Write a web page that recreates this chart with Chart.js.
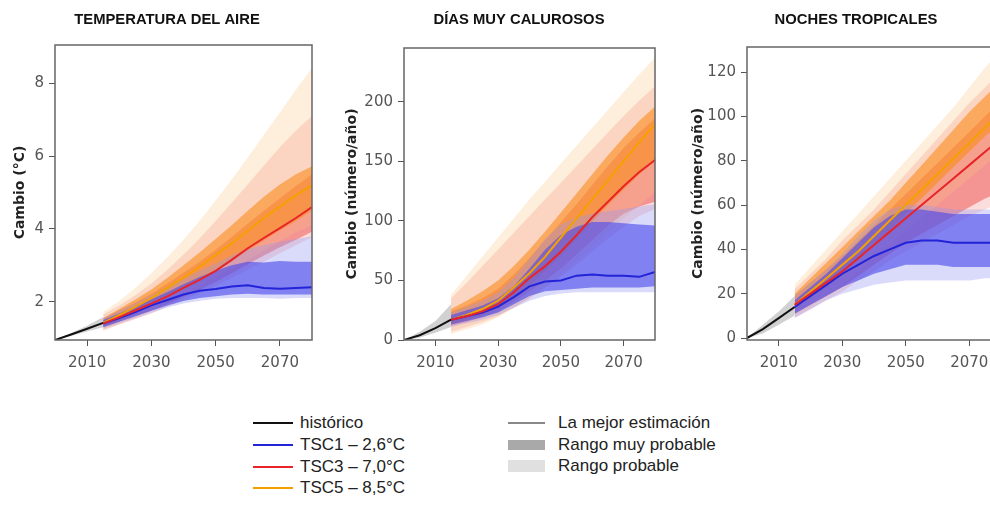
<!DOCTYPE html>
<html lang="es">
<head>
<meta charset="UTF-8">
<title>Cambios proyectados</title>
<script src="https://cdn.jsdelivr.net/npm/chart.js"></script>
<style>
  html, body { margin: 0; padding: 0; overflow: hidden; background: #fff; }
  body { width: 990px; height: 508px; position: relative; font-family: 'Liberation Sans', Arial, sans-serif; }
  canvas { position: absolute; top: 0; }
  .lg { position: absolute; display: flex; align-items: center; height: 22px; font-size: 17px; color: #222; white-space: nowrap; }
  .ln { display: inline-block; width: 40px; height: 2px; margin-right: 7px; }
  .sw { display: inline-block; width: 37px; margin-right: 13px; }
</style>
</head>
<body>
<canvas id="c1" width="335" height="380" style="left:0px"></canvas>
<canvas id="c2" width="378" height="380" style="left:330px"></canvas>
<canvas id="c3" width="392" height="380" style="left:660px"></canvas>

<!-- leyenda -->
<div class="lg" style="left:253px;top:412px"><span class="ln" style="background:#111"></span>histórico</div>
<div class="lg" style="left:253px;top:434px"><span class="ln" style="background:#2323d8"></span>TSC1 – 2,6°C</div>
<div class="lg" style="left:253px;top:456px"><span class="ln" style="background:#e8242a"></span>TSC3 – 7,0°C</div>
<div class="lg" style="left:253px;top:477px"><span class="ln" style="background:#f5a000"></span>TSC5 – 8,5°C</div>
<div class="lg" style="left:508px;top:412px"><span class="sw" style="height:2px;background:#888"></span>La mejor estimación</div>
<div class="lg" style="left:508px;top:434px"><span class="sw" style="height:10px;background:#a9a9a9"></span>Rango muy probable</div>
<div class="lg" style="left:508px;top:455px"><span class="sw" style="height:12px;background:#e0e0e0"></span>Rango probable</div>

<script>
// años
const histYears = [2000, 2005, 2010, 2015];
const years = [2015, 2020, 2025, 2030, 2035, 2040, 2045, 2050, 2055, 2060, 2065, 2070, 2075, 2080];
const xTicks = [2010, 2030, 2050, 2070];

// TEMPERATURA DEL AIRE (°C)
const tempTicks = [2, 4, 6, 8];
const tempHist = [0.95, 1.1, 1.26, 1.42];
const tempHistLo = [0.95, 1.06, 1.18, 1.3];
const tempHistHi = [0.95, 1.14, 1.34, 1.58];
const tempTsc1 = [1.4, 1.55, 1.72, 1.9, 2.05, 2.2, 2.3, 2.35, 2.42, 2.45, 2.38, 2.36, 2.38, 2.4];
const tempTsc1InnerLo = [1.3, 1.45, 1.6, 1.75, 1.9, 2.02, 2.1, 2.15, 2.2, 2.22, 2.2, 2.2, 2.2, 2.2];
const tempTsc1InnerHi = [1.5, 1.68, 1.87, 2.07, 2.27, 2.48, 2.68, 2.85, 3.0, 3.1, 3.08, 3.12, 3.1, 3.1];
const tempTsc1OuterLo = [1.25, 1.4, 1.55, 1.7, 1.84, 1.95, 2.03, 2.08, 2.1, 2.1, 2.1, 2.08, 2.1, 2.1];
const tempTsc1OuterHi = [1.55, 1.75, 1.96, 2.18, 2.4, 2.62, 2.85, 3.05, 3.28, 3.45, 3.55, 3.65, 3.72, 3.8];
const tempTsc3 = [1.4, 1.58, 1.76, 1.95, 2.15, 2.38, 2.6, 2.85, 3.15, 3.47, 3.75, 4.02, 4.3, 4.6];
const tempTsc3InnerLo = [1.3, 1.45, 1.6, 1.76, 1.94, 2.13, 2.33, 2.54, 2.78, 3.03, 3.27, 3.5, 3.7, 3.92];
const tempTsc3InnerHi = [1.55, 1.76, 1.98, 2.22, 2.5, 2.8, 3.1, 3.43, 3.78, 4.14, 4.5, 4.84, 5.18, 5.5];
const tempTsc3OuterLo = [1.22, 1.37, 1.52, 1.68, 1.86, 2.04, 2.23, 2.43, 2.65, 2.88, 3.1, 3.33, 3.55, 3.78];
const tempTsc3OuterHi = [1.65, 1.9, 2.18, 2.5, 2.88, 3.3, 3.74, 4.22, 4.72, 5.22, 5.74, 6.24, 6.7, 7.1];
const tempTsc5 = [1.42, 1.63, 1.86, 2.1, 2.38, 2.66, 2.96, 3.28, 3.6, 3.95, 4.3, 4.62, 4.92, 5.2];
const tempTsc5InnerLo = [1.32, 1.5, 1.7, 1.9, 2.12, 2.36, 2.6, 2.86, 3.12, 3.4, 3.68, 3.96, 4.22, 4.5];
const tempTsc5InnerHi = [1.55, 1.8, 2.06, 2.34, 2.66, 3.0, 3.35, 3.72, 4.1, 4.5, 4.88, 5.22, 5.5, 5.72];
const tempTsc5OuterLo = [1.2, 1.38, 1.56, 1.76, 1.98, 2.2, 2.42, 2.66, 2.9, 3.15, 3.4, 3.66, 3.9, 4.12];
const tempTsc5OuterHi = [1.72, 2.02, 2.38, 2.78, 3.22, 3.7, 4.22, 4.78, 5.36, 5.96, 6.58, 7.2, 7.82, 8.42];

// DÍAS MUY CALUROSOS (número/año)
const diasTicks = [0, 50, 100, 150, 200];
const diasHist = [0, 4, 10, 17];
const diasHistLo = [0, 2, 6, 11];
const diasHistHi = [0, 7, 16, 30];
const diasTsc1 = [17, 20, 23, 28, 36, 45, 49, 50, 54, 55, 54, 54, 53, 57];
const diasTsc1InnerLo = [13, 16, 19, 23, 30, 37, 41, 42, 43, 44, 44, 44, 44, 45];
const diasTsc1InnerHi = [21, 25, 29, 35, 45, 60, 76, 88, 95, 99, 99, 98, 97, 96];
const diasTsc1OuterLo = [11, 14, 17, 21, 27, 33, 37, 39, 40, 40, 40, 40, 40, 40];
const diasTsc1OuterHi = [23, 28, 33, 40, 52, 68, 85, 97, 103, 106, 108, 110, 112, 114];
const diasTsc3 = [17, 20, 24, 30, 40, 52, 62, 74, 88, 103, 116, 129, 141, 151];
const diasTsc3InnerLo = [12, 15, 19, 24, 32, 41, 50, 60, 72, 84, 96, 106, 112, 116];
const diasTsc3InnerHi = [24, 29, 35, 43, 55, 69, 84, 99, 114, 130, 146, 161, 174, 186];
const diasTsc3OuterLo = [7, 11, 15, 20, 27, 35, 44, 53, 63, 74, 85, 95, 104, 110];
const diasTsc3OuterHi = [35, 48, 62, 76, 90, 104, 118, 132, 146, 160, 174, 188, 201, 213];
const diasTsc5 = [17, 21, 26, 33, 44, 56, 70, 86, 102, 118, 134, 150, 166, 181];
const diasTsc5InnerLo = [13, 17, 21, 27, 36, 46, 58, 71, 85, 99, 113, 126, 139, 150];
const diasTsc5InnerHi = [26, 33, 41, 50, 62, 76, 91, 107, 123, 139, 155, 170, 184, 196];
const diasTsc5OuterLo = [5, 9, 13, 19, 27, 35, 44, 55, 66, 78, 90, 102, 113, 124];
const diasTsc5OuterHi = [38, 54, 70, 86, 102, 118, 133, 148, 163, 178, 193, 208, 223, 237];

// NOCHES TROPICALES (número/año)
const nochesTicks = [0, 20, 40, 60, 80, 100, 120];
const nochesHist = [0, 4, 9, 14];
const nochesHistLo = [0, 2, 6, 10];
const nochesHistHi = [0, 6, 12, 19];
const nochesTsc1 = [14, 19, 24, 29, 33, 37, 40, 43, 44, 44, 43, 43, 43, 43];
const nochesTsc1InnerLo = [11, 15, 19, 23, 26, 29, 31, 33, 33, 33, 32, 32, 32, 32];
const nochesTsc1InnerHi = [17, 23, 29, 36, 43, 50, 55, 58, 58, 57, 56, 56, 56, 56];
const nochesTsc1OuterLo = [9, 13, 17, 20, 22, 24, 25, 26, 26, 26, 26, 26, 27, 27];
const nochesTsc1OuterHi = [19, 25, 31, 38, 46, 53, 58, 60, 60, 59, 58, 58, 58, 58];
const nochesTsc3 = [15, 20, 25, 30, 36, 42, 48, 54, 60, 66, 72, 78, 84, 90];
const nochesTsc3InnerLo = [11, 15, 19, 23, 28, 33, 38, 43, 47, 51, 55, 59, 63, 66];
const nochesTsc3InnerHi = [19, 25, 31, 37, 44, 51, 58, 65, 72, 79, 86, 93, 100, 107];
const nochesTsc3OuterLo = [9, 13, 17, 21, 26, 30, 35, 39, 43, 47, 51, 55, 58, 61];
const nochesTsc3OuterHi = [22, 29, 36, 44, 51, 58, 66, 74, 82, 90, 98, 106, 113, 120];
const nochesTsc5 = [15, 21, 27, 33, 39, 46, 53, 60, 67, 74, 81, 88, 95, 102];
const nochesTsc5InnerLo = [13, 18, 23, 29, 35, 42, 49, 56, 63, 70, 77, 84, 91, 97];
const nochesTsc5InnerHi = [20, 27, 34, 41, 48, 55, 62, 70, 78, 86, 94, 102, 109, 116];
const nochesTsc5OuterLo = [10, 14, 19, 24, 30, 36, 42, 48, 54, 60, 66, 72, 78, 84];
const nochesTsc5OuterHi = [24, 32, 40, 48, 56, 64, 72, 80, 88, 96, 104, 113, 122, 130];

const colors = {
  hist: '#111111', histBand: 'rgba(0,0,0,0.18)',
  tsc1: '#2323d8', tsc1Inner: 'rgba(70,70,235,0.6)', tsc1Outer: 'rgba(150,150,240,0.35)',
  tsc3: '#e8242a', tsc3Inner: 'rgba(235,60,60,0.45)', tsc3Outer: 'rgba(240,120,110,0.25)',
  tsc5: '#f5a000', tsc5Inner: 'rgba(250,140,30,0.6)', tsc5Outer: 'rgba(250,195,130,0.28)'
};

const pts = (xs, ys) => xs.map((x, i) => ({ x: x, y: ys[i] }));

function addBand(list, xs, lo, hi, color, order) {
  const base = list.length;
  list.push({ data: pts(xs, lo), borderWidth: 0, pointRadius: 0, fill: false, order: order });
  list.push({ data: pts(xs, hi), borderWidth: 0, pointRadius: 0, backgroundColor: color, fill: { target: base }, order: order });
}

function addLine(list, xs, ys, color, order) {
  list.push({ data: pts(xs, ys), borderColor: color, borderWidth: 2, pointRadius: 0, fill: false, order: order });
}

// marco gris alrededor del área del gráfico
const frame = {
  id: 'frame',
  afterDatasetsDraw(chart) {
    const { ctx, chartArea: a } = chart;
    ctx.save();
    ctx.strokeStyle = '#666';
    ctx.lineWidth = 1.5;
    ctx.strokeRect(a.left, a.top, a.right - a.left, a.bottom - a.top);
    ctx.restore();
  }
};

// título del panel, centrado sobre todo el panel (eje incluido)
const panelTitle = {
  id: 'panelTitle',
  afterDraw(chart, args, opts) {
    const ctx = chart.ctx;
    ctx.save();
    ctx.font = 'bold 14.8px "Liberation Sans", Arial, sans-serif';
    ctx.fillStyle = '#111';
    ctx.textAlign = 'center';
    ctx.textBaseline = 'middle';
    ctx.fillText(opts.text, opts.x, opts.y);
    ctx.restore();
  }
};

const tickFont = { family: 'DejaVu Sans', size: 15 };

function makeChart(id, p) {
  const ds = [];
  addBand(ds, years, p.s3[3], p.s3[4], colors.tsc3Outer, 9);
  addBand(ds, years, p.s3[1], p.s3[2], colors.tsc3Inner, 8);
  addBand(ds, years, p.s5[3], p.s5[4], colors.tsc5Outer, 7);
  addBand(ds, years, p.s5[1], p.s5[2], colors.tsc5Inner, 6);
  addBand(ds, years, p.s1[3], p.s1[4], colors.tsc1Outer, 5);
  addBand(ds, years, p.s1[1], p.s1[2], colors.tsc1Inner, 4);
  addBand(ds, histYears, p.hist[1], p.hist[2], colors.histBand, 3);
  addLine(ds, years, p.s5[0], colors.tsc5, 2);
  addLine(ds, years, p.s1[0], colors.tsc1, 1);
  addLine(ds, years, p.s3[0], colors.tsc3, 0);
  addLine(ds, histYears, p.hist[0], colors.hist, 0);

  return new Chart(document.getElementById(id), {
    type: 'line',
    data: { datasets: ds },
    options: {
      responsive: false,
      animation: false,
      events: [],
      layout: { padding: { top: p.top, right: p.padRight } },
      plugins: {
        legend: { display: false },
        tooltip: { enabled: false },
        title: { display: false },
        panelTitle: { text: p.title, x: p.titleX, y: 20 }
      },
      scales: {
        x: {
          type: 'linear',
          min: 2000,
          max: 2080,
          afterBuildTicks: s => { s.ticks = xTicks.map(v => ({ value: v })); },
          afterFit: s => { s.height = 40; },
          border: { display: false },
          grid: { drawOnChartArea: false, drawTicks: true, tickLength: 6, tickColor: '#555' },
          ticks: { font: tickFont, color: '#555', padding: 8, maxRotation: 0, callback: v => String(v) }
        },
        y: {
          min: p.yMin,
          max: p.yMax,
          afterBuildTicks: s => { s.ticks = p.yTicks.map(v => ({ value: v })); },
          afterFit: s => { s.width = p.yWidth; },
          border: { display: false },
          grid: { drawOnChartArea: false, drawTicks: true, tickLength: 6, tickColor: '#555' },
          ticks: { font: tickFont, color: '#555', padding: 5, callback: v => String(v) },
          title: {
            display: true,
            text: p.yTitle,
            color: '#222',
            font: { family: 'DejaVu Sans', size: 14, weight: 'bold' },
            padding: { top: p.yTitlePad, bottom: 0 }
          }
        }
      }
    },
    plugins: [frame, panelTitle]
  });
}

makeChart('c1', {
  title: 'TEMPERATURA DEL AIRE', titleX: 167, yTitle: 'Cambio (°C)',
  yMin: 0.95, yMax: 9.05, yTicks: tempTicks,
  yWidth: 55, yTitlePad: 11.6, padRight: 23, top: 45,
  hist: [tempHist, tempHistLo, tempHistHi],
  s1: [tempTsc1, tempTsc1InnerLo, tempTsc1InnerHi, tempTsc1OuterLo, tempTsc1OuterHi],
  s3: [tempTsc3, tempTsc3InnerLo, tempTsc3InnerHi, tempTsc3OuterLo, tempTsc3OuterHi],
  s5: [tempTsc5, tempTsc5InnerLo, tempTsc5InnerHi, tempTsc5OuterLo, tempTsc5OuterHi]
});

makeChart('c2', {
  title: 'DÍAS MUY CALUROSOS', titleX: 189, yTitle: 'Cambio (número/año)',
  yMin: 0, yMax: 245, yTicks: diasTicks,
  yWidth: 74, yTitlePad: 13.6, padRight: 53, top: 48,
  hist: [diasHist, diasHistLo, diasHistHi],
  s1: [diasTsc1, diasTsc1InnerLo, diasTsc1InnerHi, diasTsc1OuterLo, diasTsc1OuterHi],
  s3: [diasTsc3, diasTsc3InnerLo, diasTsc3InnerHi, diasTsc3OuterLo, diasTsc3OuterHi],
  s5: [diasTsc5, diasTsc5InnerLo, diasTsc5InnerHi, diasTsc5OuterLo, diasTsc5OuterHi]
});

makeChart('c3', {
  title: 'NOCHES TROPICALES', titleX: 196, yTitle: 'Cambio (número/año)',
  yMin: -0.9, yMax: 131.3, yTicks: nochesTicks,
  yWidth: 87, yTitlePad: 29.6, padRight: 51, top: 47,
  hist: [nochesHist, nochesHistLo, nochesHistHi],
  s1: [nochesTsc1, nochesTsc1InnerLo, nochesTsc1InnerHi, nochesTsc1OuterLo, nochesTsc1OuterHi],
  s3: [nochesTsc3, nochesTsc3InnerLo, nochesTsc3InnerHi, nochesTsc3OuterLo, nochesTsc3OuterHi],
  s5: [nochesTsc5, nochesTsc5InnerLo, nochesTsc5InnerHi, nochesTsc5OuterLo, nochesTsc5OuterHi]
});
</script>
</body>
</html>
